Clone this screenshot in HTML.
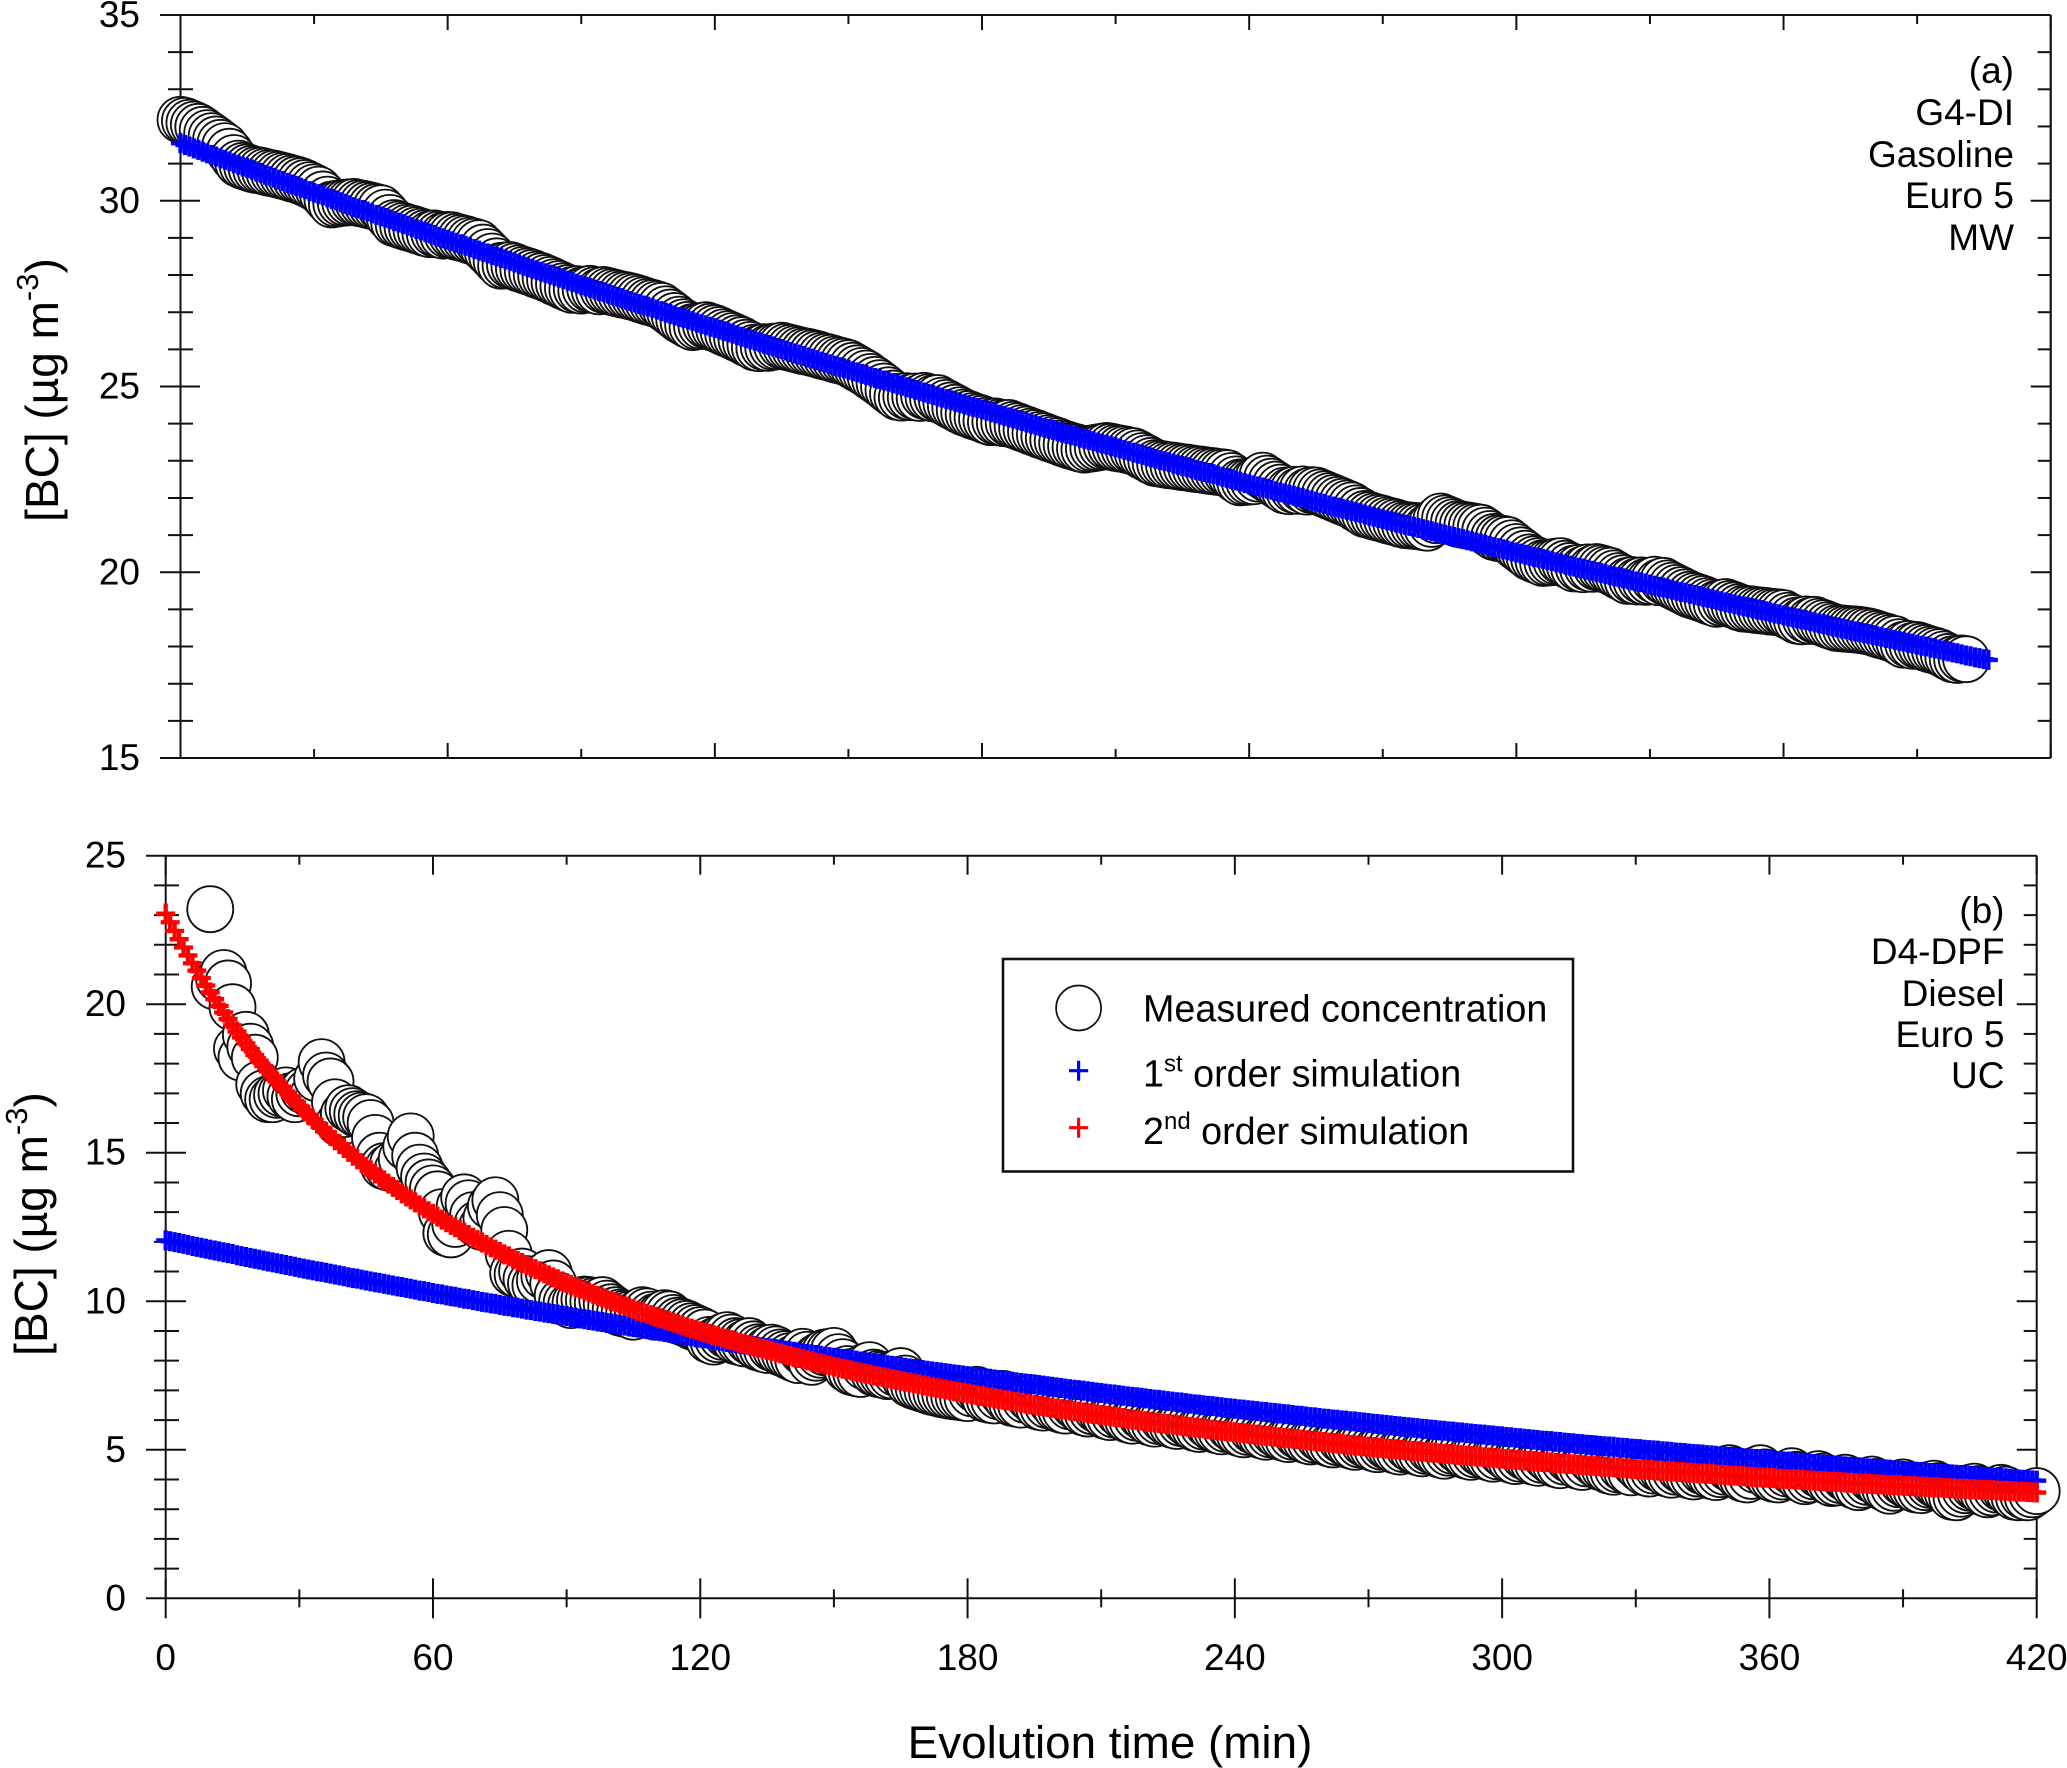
<!DOCTYPE html>
<html lang="en">
<head>
<meta charset="utf-8">
<title>Black carbon concentration decay</title>
<style>
html,body{margin:0;padding:0;background:#fff;}
svg{display:block;font-family:"Liberation Sans",sans-serif;fill:#000;}
</style>
</head>
<body>
<svg id="chart" xmlns="http://www.w3.org/2000/svg" width="2067" height="1768" viewBox="0 0 2067 1768">
<rect x="0" y="0" width="2067" height="1768" fill="#fff"/>
<g id="panel-a"></g>
<g id="panel-b"></g>

<text transform="translate(58 390) rotate(-90)" text-anchor="middle" font-size="46">[BC] (µg m<tspan dy="-20" font-size="31">-3</tspan><tspan dy="20">)</tspan></text>
<text transform="translate(47 1224) rotate(-90)" text-anchor="middle" font-size="46">[BC] (µg m<tspan dy="-20" font-size="31">-3</tspan><tspan dy="20">)</tspan></text>
<text x="1110" y="1758" text-anchor="middle" font-size="45.8">Evolution time (min)</text>

<g font-size="37" text-anchor="end">
<text x="2014" y="83">(a)</text>
<text x="2014" y="125">G4-DI</text>
<text x="2014" y="167">Gasoline</text>
<text x="2014" y="208">Euro 5</text>
<text x="2014" y="250">MW</text>
</g>
<g font-size="37" text-anchor="end">
<text x="2004.5" y="923">(b)</text>
<text x="2004.5" y="964">D4-DPF</text>
<text x="2004.5" y="1006">Diesel</text>
<text x="2004.5" y="1047">Euro 5</text>
<text x="2004.5" y="1088">UC</text>
</g>

<g id="legend">
<rect x="1003" y="959" width="570" height="212.5" fill="#fff" stroke="#111" stroke-width="2.6"/>
<circle cx="1078.6" cy="1008" r="22.5" fill="#fff" stroke="#111" stroke-width="1.7"/>
<path d="M1069 1070.7H1088.2M1078.6 1060.7V1080.7" stroke="#0000ff" stroke-width="3.2" fill="none"/>
<path d="M1069 1127.7H1088.2M1078.6 1117.7V1137.7" stroke="#ff0000" stroke-width="3.2" fill="none"/>
<text x="1143" y="1021.7" font-size="37.7">Measured concentration</text>
<text x="1143" y="1086.7" font-size="37.7">1<tspan dy="-15" font-size="24">st</tspan><tspan dy="15"> order simulation</tspan></text>
<text x="1143" y="1144" font-size="37.7">2<tspan dy="-15" font-size="24">nd</tspan><tspan dy="15"> order simulation</tspan></text>
</g>

<script>
// ---- axis labels ----
const xTickLabels = [0, 60, 120, 180, 240, 300, 360, 420];
const xMinorTicks = [30, 90, 150, 210, 270, 330, 390];
const yTickLabelsA = [15, 20, 25, 30, 35];
const yMinorTicksA = [16, 17, 18, 19, 21, 22, 23, 24, 26, 27, 28, 29, 31, 32, 33, 34];
const yTickLabelsB = [0, 5, 10, 15, 20, 25];
const yMinorTicksB = [1, 2, 3, 4, 6, 7, 8, 9, 11, 12, 13, 14, 16, 17, 18, 19, 21, 22, 23, 24];

// ---- first time (min) of each series; samples are one minute apart ----
const startMeasuredA = 0;
const startSimA = 0;
const startMeasuredB = 10;
const startFirstOrderB = 0;
const startSecondOrderB = 0;

// ---- panel (a): measured BC, ug/m3 ----
const measuredA = [
32.18,32.15,32.10,32.05,31.99,31.91,31.82,31.74,31.65,31.56,
31.47,31.32,31.15,31.00,30.94,30.90,30.86,30.83,30.81,30.78,
30.75,30.73,30.70,30.67,30.64,30.60,30.57,30.53,30.48,30.42,
30.36,30.30,30.17,30.03,29.90,29.92,29.94,29.95,29.96,29.97,
29.94,29.92,29.89,29.86,29.83,29.80,29.68,29.54,29.40,29.36,
29.32,29.28,29.25,29.21,29.17,29.13,29.10,29.12,29.09,29.06,
29.08,29.07,29.03,29.00,28.97,28.93,28.90,28.86,28.74,28.62,
28.50,28.37,28.25,28.26,28.27,28.23,28.18,28.14,28.10,28.06,
28.01,27.97,27.92,27.87,27.81,27.76,27.70,27.65,27.60,27.62,
27.58,27.61,27.63,27.59,27.56,27.60,27.57,27.54,27.51,27.48,
27.46,27.43,27.40,27.36,27.32,27.28,27.25,27.21,27.17,27.08,
26.99,26.90,26.80,26.73,26.66,26.60,26.62,26.63,26.65,26.61,
26.57,26.52,26.46,26.41,26.36,26.30,26.25,26.18,26.12,26.05,
26.03,26.06,26.04,26.07,26.08,26.10,26.07,26.04,26.01,25.98,
25.95,25.93,25.90,25.87,25.83,25.80,25.77,25.73,25.70,25.67,
25.63,25.56,25.49,25.42,25.35,25.26,25.18,25.09,25.00,24.90,
24.81,24.72,24.70,24.74,24.71,24.73,24.69,24.75,24.71,24.68,
24.69,24.62,24.56,24.49,24.43,24.36,24.30,24.26,24.21,24.17,
24.13,24.08,24.04,24.06,24.03,24.01,24.02,23.97,23.93,23.88,
23.84,23.79,23.75,23.70,23.66,23.61,23.57,23.53,23.48,23.44,
23.40,23.37,23.33,23.30,23.32,23.34,23.36,23.38,23.40,23.38,
23.35,23.33,23.31,23.28,23.26,23.20,23.13,23.07,23.00,22.94,
22.92,22.90,22.88,22.87,22.85,22.83,22.82,22.80,22.78,22.77,
22.75,22.73,22.72,22.70,22.69,22.67,22.59,22.50,22.42,22.43,
22.44,22.45,22.52,22.60,22.52,22.44,22.36,22.28,22.20,22.18,
22.22,22.19,22.23,22.17,22.21,22.20,22.15,22.10,22.05,22.00,
21.95,21.90,21.85,21.80,21.72,21.65,21.57,21.54,21.50,21.47,
21.44,21.40,21.37,21.34,21.30,21.27,21.26,21.25,21.24,21.22,
21.20,21.30,21.40,21.50,21.45,21.40,21.35,21.30,21.28,21.26,
21.24,21.22,21.20,21.12,21.03,20.95,20.92,20.90,20.87,20.78,
20.68,20.59,20.50,20.40,20.35,20.30,20.25,20.26,20.27,20.29,
20.30,20.23,20.17,20.10,20.12,20.08,20.13,20.09,20.14,20.11,
20.07,20.04,19.97,19.90,19.84,19.77,19.79,19.75,19.78,19.74,
19.76,19.80,19.73,19.77,19.70,19.64,19.58,19.52,19.46,19.40,
19.36,19.32,19.28,19.23,19.19,19.15,19.18,19.20,19.15,19.11,
19.06,19.02,19.01,19.00,18.98,18.97,18.96,18.94,18.93,18.92,
18.90,18.83,18.77,18.70,18.68,18.73,18.69,18.72,18.67,18.63,
18.58,18.54,18.50,18.49,18.48,18.47,18.46,18.45,18.43,18.41,
18.38,18.34,18.30,18.27,18.23,18.20,18.12,18.05,18.07,18.02,
18.04,18.00,17.96,17.92,17.89,17.85,17.79,17.72,17.66,17.64,
17.68,17.66];

// ---- panel (a): first-order simulation ----
const simA = [
31.55,31.50,31.46,31.41,31.37,31.32,31.28,31.23,31.19,31.14,
31.10,31.06,31.01,30.97,30.92,30.88,30.84,30.79,30.75,30.70,
30.66,30.62,30.57,30.53,30.48,30.44,30.40,30.35,30.31,30.26,
30.22,30.18,30.14,30.09,30.05,30.01,29.96,29.92,29.88,29.83,
29.79,29.75,29.71,29.66,29.62,29.58,29.54,29.50,29.45,29.41,
29.37,29.33,29.29,29.24,29.20,29.16,29.12,29.08,29.03,28.99,
28.95,28.91,28.87,28.83,28.79,28.75,28.70,28.66,28.62,28.58,
28.54,28.50,28.46,28.42,28.38,28.34,28.29,28.25,28.21,28.17,
28.13,28.09,28.05,28.01,27.97,27.93,27.89,27.85,27.81,27.77,
27.73,27.69,27.65,27.61,27.57,27.54,27.50,27.46,27.42,27.38,
27.34,27.30,27.26,27.22,27.18,27.15,27.11,27.07,27.03,26.99,
26.95,26.91,26.87,26.84,26.80,26.76,26.72,26.68,26.65,26.61,
26.57,26.53,26.49,26.46,26.42,26.38,26.34,26.30,26.27,26.23,
26.19,26.15,26.12,26.08,26.04,26.01,25.97,25.93,25.89,25.86,
25.82,25.78,25.75,25.71,25.67,25.64,25.60,25.56,25.52,25.49,
25.45,25.41,25.38,25.34,25.31,25.27,25.23,25.20,25.16,25.13,
25.09,25.05,25.02,24.98,24.95,24.91,24.87,24.84,24.80,24.77,
24.73,24.70,24.66,24.63,24.59,24.56,24.52,24.49,24.45,24.42,
24.38,24.35,24.31,24.28,24.24,24.21,24.17,24.14,24.10,24.07,
24.03,24.00,23.96,23.93,23.89,23.86,23.83,23.79,23.76,23.72,
23.69,23.66,23.62,23.59,23.56,23.53,23.49,23.46,23.43,23.39,
23.36,23.33,23.29,23.26,23.22,23.19,23.16,23.12,23.09,23.05,
23.02,22.99,22.96,22.92,22.89,22.86,22.83,22.80,22.76,22.73,
22.70,22.67,22.64,22.60,22.57,22.54,22.51,22.47,22.44,22.40,
22.37,22.34,22.31,22.28,22.25,22.22,22.18,22.15,22.12,22.09,
22.06,22.03,22.00,21.96,21.93,21.90,21.87,21.84,21.80,21.77,
21.74,21.71,21.68,21.65,21.62,21.59,21.55,21.52,21.49,21.46,
21.43,21.40,21.37,21.34,21.31,21.28,21.25,21.22,21.19,21.16,
21.13,21.10,21.07,21.04,21.01,20.98,20.95,20.92,20.89,20.86,
20.83,20.80,20.77,20.74,20.71,20.68,20.65,20.62,20.59,20.56,
20.53,20.50,20.47,20.44,20.41,20.39,20.36,20.33,20.30,20.27,
20.24,20.21,20.18,20.15,20.12,20.10,20.07,20.04,20.01,19.98,
19.95,19.92,19.89,19.87,19.84,19.81,19.78,19.75,19.73,19.70,
19.67,19.64,19.61,19.59,19.56,19.53,19.50,19.47,19.45,19.42,
19.39,19.36,19.33,19.31,19.28,19.25,19.22,19.19,19.17,19.14,
19.11,19.08,19.06,19.03,19.00,18.98,18.95,18.92,18.89,18.87,
18.84,18.81,18.79,18.76,18.73,18.71,18.68,18.65,18.62,18.60,
18.57,18.54,18.52,18.49,18.47,18.44,18.41,18.39,18.36,18.34,
18.31,18.28,18.26,18.23,18.21,18.18,18.15,18.13,18.10,18.08,
18.05,18.02,18.00,17.97,17.95,17.92,17.89,17.87,17.84,17.82,
17.79,17.76,17.74,17.71,17.69,17.66,17.64];

// ---- panel (b): measured BC, ug/m3 ----
const measuredB = [
23.20,20.60,20.85,21.05,20.70,19.90,18.50,18.20,18.97,18.57,
18.20,17.30,17.00,16.80,16.80,16.95,17.00,17.10,16.90,16.80,
17.00,17.10,17.05,16.90,17.50,18.05,17.60,17.40,16.70,16.00,
16.30,16.50,16.40,16.30,16.25,16.20,16.00,15.50,14.90,14.55,
14.50,14.60,14.40,14.80,15.20,15.55,14.90,14.50,14.20,14.00,
13.80,13.60,13.00,12.30,12.25,12.60,13.20,13.50,13.30,12.90,
12.60,12.50,12.80,13.20,13.40,12.90,12.40,11.60,10.95,10.90,
11.00,10.75,10.60,10.55,10.70,10.85,10.95,10.60,10.20,10.00,
9.95,9.87,9.95,10.02,10.06,10.04,10.00,9.96,10.04,9.92,
9.80,9.70,9.62,9.58,9.55,9.48,9.60,9.70,9.66,9.55,
9.48,9.52,9.60,9.56,9.44,9.35,9.30,9.24,9.16,9.10,
9.03,8.95,8.70,8.64,8.72,8.80,8.86,8.78,8.66,8.62,
8.58,8.66,8.55,8.45,8.40,8.36,8.44,8.38,8.28,8.22,
8.15,8.08,8.02,8.30,8.20,7.96,8.10,8.20,8.28,8.30,
8.33,8.12,7.95,7.72,7.62,7.58,7.55,7.80,7.85,7.60,
7.55,7.52,7.48,7.50,7.58,7.65,7.40,7.22,7.15,7.10,
7.05,7.00,6.95,6.92,6.88,6.85,6.82,6.80,6.78,6.76,
6.74,6.90,7.02,6.95,6.72,6.68,6.66,6.80,6.88,6.70,
6.58,6.55,6.52,6.68,6.74,6.60,6.45,6.42,6.50,6.58,
6.40,6.35,6.32,6.46,6.50,6.38,6.26,6.22,6.30,6.36,
6.28,6.14,6.10,6.18,6.24,6.10,6.02,5.98,6.08,6.14,
6.02,5.92,5.88,5.96,6.02,5.90,5.84,5.80,5.90,5.94,
5.82,5.74,5.70,5.78,5.84,5.72,5.66,5.62,5.70,5.76,
5.64,5.56,5.52,5.60,5.66,5.58,5.48,5.44,5.52,5.56,
5.46,5.40,5.36,5.44,5.50,5.40,5.32,5.28,5.34,5.40,
5.30,5.22,5.18,5.26,5.32,5.22,5.14,5.10,5.18,5.22,
5.14,5.06,5.02,5.10,5.14,5.06,4.98,4.94,5.02,5.08,
4.98,4.92,4.88,4.96,5.00,4.92,4.84,4.80,4.90,4.96,
5.02,4.90,4.80,4.76,4.84,4.90,4.82,4.74,4.70,4.78,
4.88,4.76,4.66,4.62,4.70,4.78,4.70,4.60,4.56,4.66,
4.74,4.62,4.52,4.48,4.60,4.68,4.60,4.46,4.42,4.54,
4.66,4.52,4.42,4.38,4.30,4.26,4.34,4.40,4.30,4.24,
4.50,4.36,4.24,4.20,4.30,4.38,4.32,4.20,4.16,4.26,
4.34,4.24,4.14,4.10,4.20,4.28,4.22,4.12,4.08,4.18,
4.26,4.38,4.30,4.14,4.04,4.00,4.12,4.32,4.38,4.24,
4.08,4.02,4.00,4.10,4.20,4.28,4.16,4.02,3.94,4.00,
4.10,4.18,4.10,3.96,3.88,3.90,3.98,4.06,3.96,3.80,
3.74,3.82,3.92,4.00,3.92,3.78,3.70,3.62,3.72,3.84,
3.90,3.80,3.72,3.66,3.64,3.74,3.82,3.86,3.78,3.66,
3.56,3.42,3.40,3.52,3.64,3.72,3.76,3.68,3.56,3.50,
3.56,3.66,3.72,3.66,3.52,3.42,3.40,3.46,3.40,3.50,
3.61];

// ---- panel (b): first-order simulation ----
const firstOrderB = [
12.05,12.02,11.99,11.96,11.93,11.90,11.86,11.83,11.80,11.77,
11.74,11.71,11.68,11.65,11.62,11.59,11.55,11.52,11.49,11.46,
11.43,11.40,11.37,11.34,11.31,11.28,11.25,11.22,11.19,11.16,
11.13,11.10,11.07,11.04,11.01,10.99,10.96,10.93,10.90,10.87,
10.84,10.81,10.78,10.76,10.73,10.70,10.67,10.64,10.62,10.59,
10.56,10.53,10.50,10.48,10.45,10.42,10.39,10.36,10.34,10.31,
10.28,10.25,10.23,10.20,10.17,10.15,10.12,10.09,10.07,10.04,
10.01,9.98,9.96,9.93,9.91,9.88,9.85,9.83,9.80,9.78,
9.75,9.72,9.70,9.67,9.65,9.62,9.60,9.57,9.55,9.52,
9.50,9.47,9.45,9.42,9.40,9.37,9.35,9.32,9.30,9.27,
9.25,9.23,9.20,9.18,9.15,9.13,9.11,9.08,9.06,9.03,
9.01,8.99,8.96,8.94,8.91,8.89,8.87,8.84,8.82,8.79,
8.77,8.75,8.73,8.70,8.68,8.66,8.63,8.61,8.59,8.56,
8.54,8.52,8.50,8.47,8.45,8.43,8.41,8.39,8.36,8.34,
8.32,8.30,8.28,8.25,8.23,8.21,8.19,8.17,8.14,8.12,
8.10,8.08,8.06,8.04,8.02,8.00,7.97,7.95,7.93,7.91,
7.89,7.87,7.85,7.83,7.81,7.79,7.76,7.74,7.72,7.70,
7.68,7.66,7.64,7.62,7.60,7.58,7.56,7.54,7.52,7.50,
7.48,7.46,7.44,7.42,7.40,7.39,7.37,7.35,7.33,7.31,
7.29,7.27,7.25,7.23,7.21,7.20,7.18,7.16,7.14,7.12,
7.10,7.08,7.06,7.04,7.02,7.01,6.99,6.97,6.95,6.93,
6.91,6.89,6.87,6.86,6.84,6.82,6.80,6.78,6.77,6.75,
6.73,6.71,6.69,6.68,6.66,6.64,6.62,6.60,6.59,6.57,
6.55,6.53,6.52,6.50,6.48,6.47,6.45,6.43,6.41,6.40,
6.38,6.36,6.35,6.33,6.32,6.30,6.28,6.27,6.25,6.24,
6.22,6.20,6.19,6.17,6.15,6.14,6.12,6.10,6.09,6.07,
6.05,6.04,6.02,6.01,5.99,5.98,5.96,5.95,5.93,5.92,
5.90,5.88,5.87,5.85,5.84,5.82,5.80,5.79,5.77,5.76,
5.74,5.73,5.71,5.70,5.68,5.67,5.65,5.64,5.62,5.61,
5.59,5.58,5.56,5.55,5.53,5.52,5.51,5.49,5.48,5.46,
5.45,5.43,5.42,5.40,5.39,5.37,5.36,5.34,5.33,5.31,
5.30,5.29,5.27,5.26,5.24,5.23,5.22,5.20,5.19,5.17,
5.16,5.15,5.13,5.12,5.11,5.10,5.08,5.07,5.06,5.04,
5.03,5.02,5.00,4.99,4.98,4.97,4.95,4.94,4.93,4.91,
4.90,4.89,4.87,4.86,4.85,4.84,4.82,4.81,4.80,4.78,
4.77,4.76,4.75,4.73,4.72,4.71,4.70,4.69,4.67,4.66,
4.65,4.64,4.62,4.61,4.60,4.59,4.57,4.56,4.55,4.53,
4.52,4.51,4.50,4.49,4.48,4.47,4.45,4.44,4.43,4.42,
4.41,4.40,4.38,4.37,4.36,4.35,4.34,4.33,4.31,4.30,
4.29,4.28,4.27,4.26,4.25,4.24,4.22,4.21,4.20,4.19,
4.18,4.17,4.16,4.15,4.14,4.13,4.11,4.10,4.09,4.08,
4.07,4.06,4.05,4.04,4.03,4.02,4.00,3.99,3.98,3.97,
3.96];

// ---- panel (b): second-order simulation ----
const secondOrderB = [
23.05,22.76,22.47,22.19,21.91,21.64,21.38,21.13,20.88,20.63,
20.40,20.17,19.94,19.72,19.50,19.29,19.08,18.88,18.68,18.49,
18.29,18.10,17.92,17.74,17.57,17.40,17.23,17.06,16.90,16.74,
16.58,16.43,16.28,16.13,15.99,15.84,15.70,15.56,15.42,15.29,
15.16,15.03,14.90,14.78,14.65,14.53,14.41,14.30,14.18,14.07,
13.96,13.85,13.74,13.63,13.53,13.43,13.33,13.23,13.13,13.03,
12.94,12.85,12.75,12.66,12.57,12.49,12.40,12.31,12.23,12.14,
12.06,11.98,11.90,11.82,11.74,11.66,11.58,11.51,11.43,11.36,
11.29,11.22,11.15,11.08,11.01,10.94,10.87,10.80,10.74,10.67,
10.61,10.55,10.48,10.42,10.36,10.30,10.24,10.18,10.13,10.07,
10.01,9.96,9.90,9.85,9.79,9.74,9.68,9.63,9.58,9.53,
9.48,9.43,9.38,9.33,9.28,9.23,9.18,9.13,9.08,9.04,
8.99,8.95,8.90,8.86,8.82,8.77,8.73,8.69,8.65,8.60,
8.56,8.52,8.48,8.44,8.40,8.36,8.32,8.28,8.24,8.20,
8.16,8.12,8.09,8.05,8.01,7.98,7.94,7.91,7.87,7.84,
7.80,7.77,7.73,7.70,7.67,7.63,7.60,7.57,7.54,7.50,
7.47,7.44,7.41,7.38,7.35,7.32,7.29,7.26,7.23,7.20,
7.17,7.14,7.11,7.08,7.06,7.03,7.00,6.97,6.95,6.92,
6.89,6.86,6.84,6.81,6.79,6.76,6.73,6.71,6.68,6.66,
6.63,6.61,6.58,6.56,6.53,6.51,6.48,6.46,6.44,6.41,
6.39,6.37,6.35,6.32,6.30,6.28,6.26,6.23,6.21,6.19,
6.17,6.15,6.13,6.11,6.09,6.07,6.04,6.02,6.00,5.98,
5.96,5.94,5.92,5.90,5.88,5.87,5.85,5.83,5.81,5.79,
5.77,5.75,5.73,5.72,5.70,5.68,5.66,5.64,5.63,5.61,
5.59,5.57,5.56,5.54,5.52,5.51,5.49,5.47,5.46,5.44,
5.42,5.40,5.39,5.37,5.36,5.34,5.32,5.31,5.29,5.28,
5.26,5.24,5.23,5.21,5.20,5.18,5.16,5.15,5.13,5.12,
5.10,5.09,5.07,5.06,5.04,5.03,5.02,5.00,4.99,4.97,
4.96,4.95,4.93,4.92,4.91,4.90,4.88,4.87,4.86,4.84,
4.83,4.82,4.80,4.79,4.78,4.77,4.75,4.74,4.73,4.71,
4.70,4.69,4.68,4.66,4.65,4.64,4.63,4.62,4.60,4.59,
4.58,4.57,4.56,4.54,4.53,4.52,4.51,4.50,4.48,4.47,
4.46,4.45,4.44,4.43,4.42,4.41,4.39,4.38,4.37,4.36,
4.35,4.34,4.33,4.32,4.31,4.30,4.29,4.28,4.27,4.26,
4.25,4.24,4.23,4.22,4.21,4.20,4.19,4.18,4.17,4.16,
4.15,4.14,4.13,4.12,4.11,4.10,4.09,4.08,4.07,4.06,
4.05,4.04,4.03,4.02,4.01,4.01,4.00,3.99,3.98,3.97,
3.96,3.95,3.94,3.93,3.92,3.92,3.91,3.90,3.89,3.88,
3.87,3.86,3.85,3.85,3.84,3.83,3.82,3.81,3.81,3.80,
3.79,3.78,3.77,3.77,3.76,3.75,3.74,3.73,3.73,3.72,
3.71,3.70,3.69,3.69,3.68,3.67,3.67,3.66,3.65,3.65,
3.64,3.63,3.62,3.62,3.61,3.60,3.59,3.59,3.58,3.57,
3.56];

const SVG_NS = 'http://www.w3.org/2000/svg';
const AXIS_COLOR = '#111';
const X_MAX = 420;

function makeScales(left, right, top, bottom, yMin, yMax) {
  return {
    x: function (t) { return left + (t / X_MAX) * (right - left); },
    y: function (v) { return bottom - ((v - yMin) / (yMax - yMin)) * (bottom - top); },
    left: left, right: right, top: top, bottom: bottom
  };
}

function addLine(parent, x1, y1, x2, y2, width, name) {
  const el = document.createElementNS(SVG_NS, 'line');
  el.setAttribute('x1', x1);
  el.setAttribute('y1', y1);
  el.setAttribute('x2', x2);
  el.setAttribute('y2', y2);
  el.setAttribute('stroke', AXIS_COLOR);
  el.setAttribute('stroke-width', width);
  
  
  parent.appendChild(el);
}

function addLabel(parent, x, y, anchor, content, name) {
  const el = document.createElementNS(SVG_NS, 'text');
  el.setAttribute('x', x);
  el.setAttribute('y', y);
  el.setAttribute('text-anchor', anchor);
  el.setAttribute('font-size', '37');
  el.textContent = content;
  
  
  parent.appendChild(el);
}

function drawCircles(parent, sc, values, start, radius) {
  values.forEach(function (v, i) {
    const el = document.createElementNS(SVG_NS, 'circle');
    el.setAttribute('cx', sc.x(start + i));
    el.setAttribute('cy', sc.y(v));
    el.setAttribute('r', radius);
    el.setAttribute('fill', '#fff');
    el.setAttribute('stroke', '#111');
    el.setAttribute('stroke-width', '1.8');
    
    
    parent.appendChild(el);
  });
}

function drawPluses(parent, sc, values, start, color, name) {
  values.forEach(function (v, i) {
    const cx = sc.x(start + i);
    const cy = sc.y(v);
    const el = document.createElementNS(SVG_NS, 'path');
    el.setAttribute('d', 'M' + (cx - 9.5) + ' ' + cy + 'H' + (cx + 9.5) + 'M' + cx + ' ' + (cy - 10) + 'V' + (cy + 10));
    el.setAttribute('stroke', color);
    el.setAttribute('stroke-width', '4.3');
    el.setAttribute('fill', 'none');
    
    
    parent.appendChild(el);
  });
}

const scaleA = makeScales(180.5, 2050.7, 15, 758, 15, 35);
const scaleB = makeScales(165.7, 2036.7, 855.7, 1598.3, 0, 25);
const groupA = document.getElementById('panel-a');
const groupB = document.getElementById('panel-b');

// ---- panel (a) axes ----
addLine(groupA, scaleA.left, scaleA.top, scaleA.left, scaleA.bottom, 2, 'panel-a-left-axis');
addLine(groupA, scaleA.right, scaleA.top, scaleA.right, scaleA.bottom, 2.2, 'panel-a-right-axis');
addLine(groupA, scaleA.left, scaleA.top, scaleA.right, scaleA.top, 2, 'panel-a-top-axis');
addLine(groupA, scaleA.left, scaleA.bottom, scaleA.right, scaleA.bottom, 2, 'panel-a-bottom-axis');
yTickLabelsA.forEach(function (v) {
  const y = scaleA.y(v);
  addLine(groupA, 160, y, v === 15 || v === 35 ? scaleA.left : 200, y, 2, 'panel-a-y-major-tick');
  if (v !== 15 && v !== 35) { addLine(groupA, scaleA.right - 20, y, scaleA.right, y, 2, 'panel-a-right-major-tick'); }
  addLabel(groupA, 140, y + 12, 'end', String(v), 'panel-a-y-tick-label');
});
yMinorTicksA.forEach(function (v) {
  const y = scaleA.y(v);
  addLine(groupA, 168, y, 193, y, 2, 'panel-a-y-minor-tick');
  addLine(groupA, scaleA.right - 13, y, scaleA.right, y, 2, 'panel-a-right-minor-tick');
});
xTickLabels.forEach(function (t) {
  const x = scaleA.x(t);
  addLine(groupA, x, scaleA.top, x, scaleA.top + 15, 2, 'panel-a-top-major-tick');
  addLine(groupA, x, scaleA.bottom, x, scaleA.bottom - 15, 2, 'panel-a-bottom-major-tick');
});
xMinorTicks.forEach(function (t) {
  const x = scaleA.x(t);
  addLine(groupA, x, scaleA.top, x, scaleA.top + 9, 2, 'panel-a-top-minor-tick');
  addLine(groupA, x, scaleA.bottom, x, scaleA.bottom - 9, 2, 'panel-a-bottom-minor-tick');
});

// ---- panel (b) axes ----
addLine(groupB, scaleB.left, scaleB.top, scaleB.left, scaleB.bottom, 2, 'panel-b-left-axis');
addLine(groupB, scaleB.right, scaleB.top, scaleB.right, scaleB.bottom, 2, 'panel-b-right-axis');
addLine(groupB, scaleB.left, scaleB.top, scaleB.right, scaleB.top, 2, 'panel-b-top-axis');
addLine(groupB, scaleB.left, scaleB.bottom, scaleB.right, scaleB.bottom, 2, 'panel-b-bottom-axis');
yTickLabelsB.forEach(function (v) {
  const y = scaleB.y(v);
  addLine(groupB, 146, y, v === 25 || v === 0 ? scaleB.left : 186, y, 2, 'panel-b-y-major-tick');
  if (v !== 25 && v !== 0) { addLine(groupB, scaleB.right - 20, y, scaleB.right, y, 2, 'panel-b-right-major-tick'); }
  addLabel(groupB, 126, y + 12, 'end', String(v), 'panel-b-y-tick-label');
});
yMinorTicksB.forEach(function (v) {
  const y = scaleB.y(v);
  addLine(groupB, 154, y, 179, y, 2, 'panel-b-y-minor-tick');
  addLine(groupB, scaleB.right - 13, y, scaleB.right, y, 2, 'panel-b-right-minor-tick');
});
xTickLabels.forEach(function (t) {
  const x = scaleB.x(t);
  addLine(groupB, x, scaleB.top, x, scaleB.top + 19, 2, 'panel-b-top-major-tick');
  addLine(groupB, x, scaleB.bottom - 20, x, scaleB.bottom + 20, 2, 'panel-b-bottom-major-tick');
  addLabel(groupB, x, 1670, 'middle', String(t), 'x-tick-label');
});
xMinorTicks.forEach(function (t) {
  const x = scaleB.x(t);
  addLine(groupB, x, scaleB.top, x, scaleB.top + 9, 2, 'panel-b-top-minor-tick');
  addLine(groupB, x, scaleB.bottom - 9, x, scaleB.bottom + 9, 2, 'panel-b-bottom-minor-tick');
});

// ---- series ----
drawCircles(groupA, scaleA, measuredA, startMeasuredA, 23);
drawPluses(groupA, scaleA, simA, startSimA, '#0000ff', 'first-order-point');
drawCircles(groupB, scaleB, measuredB, startMeasuredB, 23);
drawPluses(groupB, scaleB, firstOrderB, startFirstOrderB, '#0000ff', 'first-order-point');
drawPluses(groupB, scaleB, secondOrderB, startSecondOrderB, '#ff0000', 'second-order-point');
</script>
</svg>
</body>
</html>
